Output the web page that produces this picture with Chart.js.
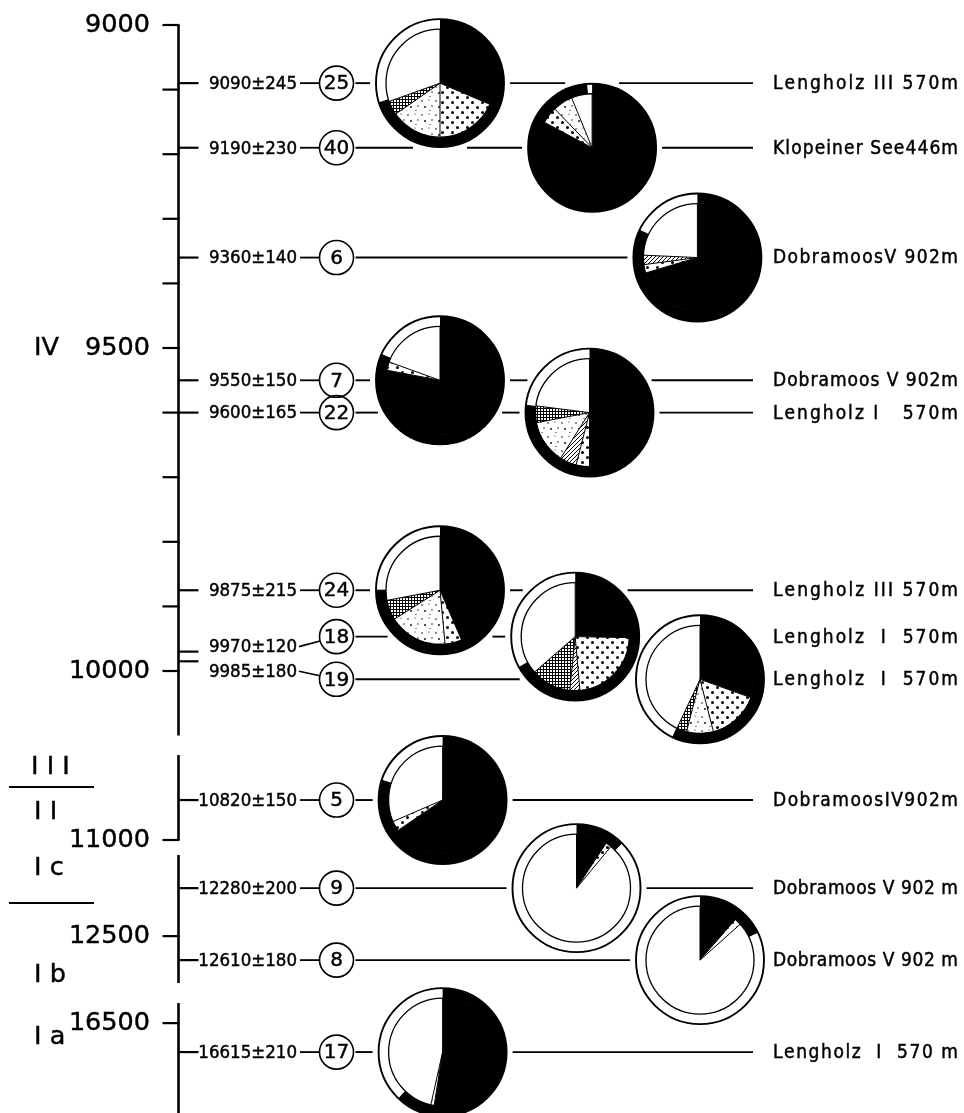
<!DOCTYPE html>
<html>
<head>
<meta charset="utf-8">
<script src="https://cdn.jsdelivr.net/npm/chart.js@4/dist/chart.umd.min.js"></script>
<style>
  html, body { margin: 0; background: #fff; }
  #wrap { position: relative; width: 964px; height: 1113px; }
</style>
</head>
<body>
<div id="wrap"><canvas id="chart"></canvas></div>
<script>
// samples, top to bottom
const sampleNo = [25, 40, 6, 7, 22, 24, 18, 19, 5, 9, 8, 17];
const ages = [9090, 9190, 9360, 9550, 9600, 9875, 9970, 9985, 10820, 12280, 12610, 16615];
const ageErrors = [245, 230, 140, 150, 165, 215, 120, 180, 150, 200, 180, 210];
const sites = [
  'Lengholz III 570m', 'Klopeiner See446m', 'DobramoosV 902m', 'Dobramoos V 902m',
  'Lengholz I   570m', 'Lengholz III 570m', 'Lengholz  I  570m', 'Lengholz  I  570m',
  'DobramoosIV902m', 'Dobramoos V 902 m', 'Dobramoos V 902 m', 'Lengholz  I  570 m'
];
// which pie column each sample sits in
const pieColumn = [1, 2.17, 2.98, 1, 2.15, 1, 2.04, 3, 1.02, 2.05, 3, 1.02];

// inner pie, percent, clockwise from 12 o'clock
const black      = [31.4, 82.8, 70.4, 78.0, 50.0, 43.5, 25.3, 30.5, 65.5,  9.3, 11.4, 52.5];
const dots       = [18.6,  5.0,  2.5,  2.5,  4.0,  5.0, 23.3, 15.5,  3.0,  1.7,  2.0,  0.0];
const hatch      = [ 0.0,  0.0,  2.8,  0.0,  5.0,  0.0,  3.0,  0.0,  0.0,  0.0,  0.0,  0.0];
const stipple    = [15.3,  6.0,  0.0,  0.0, 13.0, 17.5,  0.0,  8.0,  0.0,  0.0,  0.0,  1.0];
const crossHatch = [ 4.2,  0.0,  0.0,  0.0,  5.0,  6.0, 12.0,  3.0,  0.0,  0.0,  0.0,  0.0];
const white      = [30.5,  6.2, 24.3, 19.5, 23.0, 28.0, 36.4, 43.0, 31.5, 89.0, 86.6, 46.5];
// outer ring, black part in percent (rest white)
const ringBlack  = [70.0, 98.6, 82.0, 81.6, 76.8, 75.0, 67.0, 57.0, 80.0, 12.5, 17.8, 62.0];

// time axis
const axisTicks  = [9000, 9100, 9200, 9300, 9400, 9500, 9600, 9700, 9800, 9900, 10000, 11000, 12500, 16500];
const tickLabels = ['9000', '', '', '', '', '9500', '', '', '', '', '10000', '11000', '12500', '16500'];
const zoneNames  = ['IV', 'I I I', 'I I', 'I c', 'I b', 'I a'];
const zoneAges   = [9500, 10671, 10874, 12188, 12678, 16555];
const zoneRules  = [10761, 12348];

// broken axis: age ranges and where they sit on the y scale
const axisSegments = [
  { from: 9000,  to: 10100, start: 0,      end: 1100 },
  { from: 10617, to: 11000, start: 1130,   end: 1261.6 },
  { from: 12128, to: 12715, start: 1284.8, end: 1483 },
  { from: 16420, to: 16857, start: 1513.9, end: 1684.2 }
];

function axisPos(age) {
  let seg = axisSegments[axisSegments.length - 1];
  for (const s of axisSegments) {
    if (age <= s.to) { seg = s; break; }
  }
  return seg.start + (age - seg.from) / (seg.to - seg.from) * (seg.end - seg.start);
}

// layout
const axisX = 178.5;
const labelRight = 297;
const badgeX = 336.5, badgeR = 17;
const pieR = 64, ringW = 10;
const lineEnd = 753, siteX = 773, siteRight = 958;
const rowNudge = { 18: { row: -15, label: -5 }, 19: { row: 18, label: 10 } };

const smallFont = '18.5px "DejaVu Sans Condensed", "DejaVu Sans", sans-serif';
const siteFont = '19px "DejaVu Sans Condensed", "DejaVu Sans", sans-serif';
const bigFont = '25.5px "DejaVu Sans", sans-serif';
const badgeFont = '20px "DejaVu Sans", sans-serif';

function tile(w, h, paint) {
  const c = document.createElement('canvas');
  c.width = w; c.height = h;
  const g = c.getContext('2d');
  g.fillStyle = '#fff';
  g.fillRect(0, 0, w, h);
  g.fillStyle = '#000';
  g.strokeStyle = '#000';
  paint(g);
  return c;
}

function dot(g, x, y, r) {
  g.beginPath();
  g.arc(x, y, r, 0, Math.PI * 2);
  g.fill();
}

function makePatterns(ctx) {
  const dotTile = tile(10, 10, g => { dot(g, 2.5, 2.5, 1.5); dot(g, 7.5, 7.5, 1.5); });
  const stippleTile = tile(14, 14, g => {
    dot(g, 2, 3, 0.8); dot(g, 9, 2, 0.6); dot(g, 5, 9, 0.9); dot(g, 12, 8, 0.7); dot(g, 10, 12.5, 0.6);
  });
  const hatchTile = tile(4, 4, g => {
    g.lineWidth = 1;
    g.beginPath(); g.moveTo(-1, 5); g.lineTo(5, -1); g.stroke();
  });
  const crossTile = tile(3, 3, g => { g.fillRect(0, 0, 3, 1); g.fillRect(0, 0, 1, 3); });
  return [
    '#000',
    ctx.createPattern(dotTile, 'repeat'),
    ctx.createPattern(hatchTile, 'repeat'),
    ctx.createPattern(stippleTile, 'repeat'),
    ctx.createPattern(crossTile, 'repeat'),
    '#fff'
  ];
}

function line(ctx, x1, y1, x2, y2, w) {
  ctx.lineWidth = w;
  ctx.beginPath();
  ctx.moveTo(x1, y1);
  ctx.lineTo(x2, y2);
  ctx.stroke();
}

// scanned lettering is a little heavier than the book weight
function text(ctx, s, x, y) {
  ctx.fillText(s, x, y);
  ctx.lineWidth = 0.45;
  ctx.strokeText(s, x, y);
}

function spacedText(ctx, s, x, y, width) {
  const chars = [...s];
  const widths = chars.map(ch => ctx.measureText(ch).width);
  const total = widths.reduce((a, b) => a + b, 0);
  const gap = (width - total) / (chars.length - 1);
  let cx = x;
  chars.forEach((ch, i) => {
    text(ctx, ch, cx, y);
    cx += widths[i] + gap;
  });
}

function drawPie(ctx, cx, cy, i, fills) {
  const shares = [black[i], dots[i], hatch[i], stipple[i], crossHatch[i], white[i]];
  const rin = pieR - ringW;
  const top = -Math.PI / 2;
  ctx.fillStyle = '#fff';
  ctx.beginPath();
  ctx.arc(cx, cy, pieR, 0, Math.PI * 2);
  ctx.fill();

  let a = top;
  const edges = [];
  shares.forEach((s, k) => {
    if (s <= 0) return;
    const b = a + s / 100 * Math.PI * 2;
    ctx.fillStyle = fills[k];
    ctx.beginPath();
    ctx.moveTo(cx, cy);
    ctx.arc(cx, cy, rin, a, b);
    ctx.closePath();
    ctx.fill();
    edges.push(a);
    a = b;
  });

  const ringEnd = top + ringBlack[i] / 100 * Math.PI * 2;
  ctx.fillStyle = '#000';
  ctx.beginPath();
  ctx.arc(cx, cy, pieR, top, ringEnd);
  ctx.arc(cx, cy, rin, ringEnd, top, true);
  ctx.closePath();
  ctx.fill();

  ctx.strokeStyle = '#000';
  edges.forEach(e => line(ctx, cx, cy, cx + Math.cos(e) * rin, cy + Math.sin(e) * rin, 1));
  line(ctx, cx + Math.cos(ringEnd) * rin, cy + Math.sin(ringEnd) * rin,
    cx + Math.cos(ringEnd) * pieR, cy + Math.sin(ringEnd) * pieR, 1.2);

  ctx.lineWidth = 1.3;
  ctx.beginPath();
  ctx.arc(cx, cy, rin, 0, Math.PI * 2);
  ctx.stroke();
  ctx.lineWidth = 1.9;
  ctx.beginPath();
  ctx.arc(cx, cy, pieR, 0, Math.PI * 2);
  ctx.stroke();
}

const figurePlugin = {
  id: 'figure',
  afterDatasetsDraw(chart) {
    const ctx = chart.ctx;
    const yScale = chart.scales.y;
    const py = age => yScale.getPixelForValue(axisPos(age));
    const fills = makePatterns(ctx);
    const pts = chart.getDatasetMeta(0).data;
    const pies = pts.map((p, i) => ({ x: p.x, y: p.y + ((rowNudge[sampleNo[i]] || {}).row || 0) }));

    ctx.save();
    ctx.strokeStyle = '#000';
    ctx.fillStyle = '#000';
    ctx.lineCap = 'butt';

    // broken axis
    axisSegments.forEach(s => line(ctx, axisX, py(s.from), axisX, Math.min(py(s.to), chart.height + 2), 2.6));
    axisTicks.forEach((t, k) => {
      const y = py(t);
      line(ctx, axisX - 16, y, axisX + 1, y, 2.2);
      if (tickLabels[k]) {
        ctx.font = bigFont;
        ctx.textAlign = 'right';
        ctx.textBaseline = 'middle';
        text(ctx, tickLabels[k], 150, y);
      }
    });

    // zones
    ctx.font = bigFont;
    ctx.textAlign = 'left';
    ctx.textBaseline = 'middle';
    zoneNames.forEach((z, k) => text(ctx, z, z === 'I I I' ? 31 : 34, py(zoneAges[k])));
    zoneRules.forEach(a => line(ctx, 9, py(a), 94, py(a), 2));

    // rows
    ages.forEach((age, i) => {
      const nudge = rowNudge[sampleNo[i]] || {};
      const ty = py(age);
      const ly = ty + (nudge.label || 0);
      const by = pies[i].y;
      line(ctx, axisX, ty, axisX + 20, ty, 2.2);

      ctx.font = smallFont;
      ctx.textAlign = 'right';
      ctx.textBaseline = 'middle';
      text(ctx, `${age}±${ageErrors[i]}`, labelRight, ly + 1);

      if (ly === by) {
        line(ctx, labelRight + 3, ly, badgeX - badgeR, by, 1.8);
      } else {
        const sx = labelRight + 2;
        const d = Math.hypot(sx - badgeX, ly - by);
        line(ctx, sx, ly, badgeX + (sx - badgeX) / d * badgeR, by + (ly - by) / d * badgeR, 1.6);
      }

      ctx.lineWidth = 1.6;
      ctx.beginPath();
      ctx.arc(badgeX, by, badgeR, 0, Math.PI * 2);
      ctx.stroke();
      ctx.font = badgeFont;
      ctx.textAlign = 'center';
      text(ctx, String(sampleNo[i]), badgeX, by + 1);

      // leader line, broken where it meets a pie
      const gaps = [];
      pies.forEach(p => {
        const dy = Math.abs(p.y - by);
        const rr = pieR + 6;
        if (dy < rr) {
          const h = Math.sqrt(rr * rr - dy * dy);
          gaps.push([p.x - h, p.x + h]);
        }
      });
      gaps.sort((a, b) => a[0] - b[0]);
      let x = badgeX + badgeR + 2;
      gaps.forEach(([g0, g1]) => {
        if (g0 > x) line(ctx, x, by, Math.min(g0, lineEnd), by, 1.9);
        x = Math.max(x, g1);
      });
      if (x < lineEnd) line(ctx, x, by, lineEnd, by, 1.9);

      ctx.font = siteFont;
      ctx.textAlign = 'left';
      spacedText(ctx, sites[i], siteX, by + 1, siteRight - siteX);
    });

    pies.forEach((p, i) => drawPie(ctx, p.x, p.y, i, fills));
    ctx.restore();
  }
};

new Chart(document.getElementById('chart'), {
  type: 'scatter',
  data: {
    datasets: [{
      label: 'samples',
      data: ages.map((a, i) => ({ x: pieColumn[i], y: axisPos(a) })),
      pointRadius: 0,
      pointHoverRadius: 0
    }]
  },
  options: {
    responsive: true,
    maintainAspectRatio: false,
    animation: false,
    layout: { padding: { left: 310, right: 134, top: 0, bottom: 0 } },
    plugins: { legend: { display: false }, tooltip: { enabled: false } },
    scales: {
      x: { type: 'linear', min: 0, max: 4, display: false },
      y: { type: 'linear', min: -38.7, max: 1684.2, reverse: true, display: false }
    }
  },
  plugins: [figurePlugin]
});
</script>
</body>
</html>
